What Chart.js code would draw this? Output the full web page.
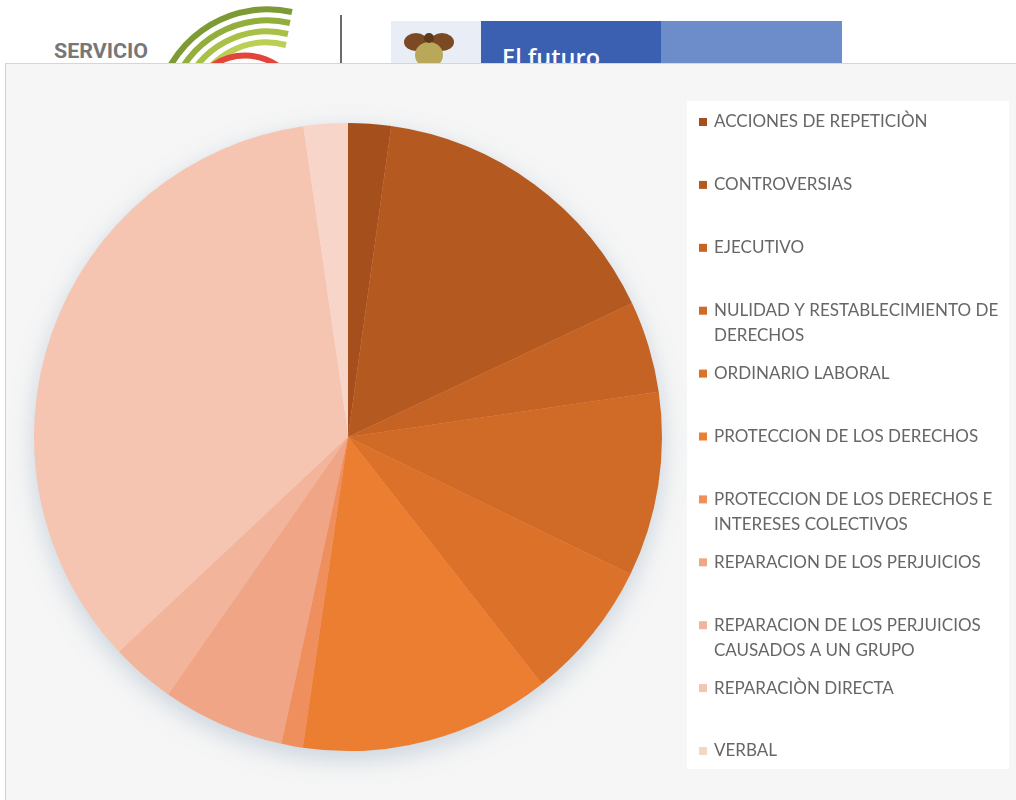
<!DOCTYPE html>
<html lang="es">
<head>
<meta charset="utf-8">
<title>Procesos por tipo</title>
<script src="https://cdn.jsdelivr.net/npm/chart.js@4.4.1/dist/chart.umd.min.js"></script>
<style>
  html, body { margin: 0; padding: 0; background: #ffffff; }
  body { width: 1016px; height: 800px; position: relative; overflow: hidden; }
  #header { position: absolute; left: 0; top: 0; }
  #panel {
    position: absolute; left: 5px; top: 63px; width: 1011px; height: 737px;
    background: #f6f6f6; border-top: 1px solid #d6d6d6; border-left: 1px solid #cfcfcf;
    box-sizing: border-box;
  }
  #panel canvas { position: absolute; left: 0; top: 0; }
</style>
</head>
<body>
<!-- logos de cabecera (quedan tapados en parte por el panel) -->
<svg id="header" width="1016" height="90" xmlns="http://www.w3.org/2000/svg">
  <text x="54" y="58" font-family="Roboto, 'Liberation Sans'" font-weight="bold" font-size="20" fill="#777777" textLength="94" lengthAdjust="spacingAndGlyphs">SERVICIO</text>
  <g fill="none" stroke-width="6">
    <path d="M 160 90 A 112 112 0 0 1 292 12" stroke="#7d9a35"/>
    <path d="M 172 90 A 100 100 0 0 1 290 23" stroke="#93ae3b"/>
    <path d="M 184 90 A 88 88 0 0 1 288 34" stroke="#a8c046"/>
    <path d="M 196 90 A 76 76 0 0 1 286 45" stroke="#bccf55"/>
    <path d="M 192 90 A 58 58 0 0 1 298 90" stroke="#e2463a"/>
  </g>
  <line x1="341" y1="15" x2="341" y2="70" stroke="#3a3a3a" stroke-width="1.5"/>
  <rect x="391" y="21" width="90" height="60" fill="#e9eef6"/>
  <g>
    <ellipse cx="416" cy="42" rx="12" ry="9" fill="#7b4a24"/>
    <ellipse cx="442" cy="42" rx="12" ry="9" fill="#7b4a24"/>
    <ellipse cx="429" cy="55" rx="14" ry="13" fill="#b9a85a"/>
    <circle cx="429" cy="38" r="5" fill="#5c3a1c"/>
  </g>
  <rect x="481" y="21" width="180" height="60" fill="#3c60b1"/>
  <rect x="661" y="21" width="181" height="60" fill="#6d8dca"/>
  <text x="502" y="66" font-family="'Open Sans', sans-serif" font-weight="600" font-size="23" fill="#ffffff" textLength="98" lengthAdjust="spacingAndGlyphs">El futuro</text>
  <text x="684" y="82" font-family="'Open Sans', sans-serif" font-size="23" fill="#ffffff" textLength="124" lengthAdjust="spacingAndGlyphs">Minenergía</text>
</svg>

<div id="panel">
  <canvas id="tiposChart" width="1011" height="737"></canvas>
</div>

<script>
// Tipos de proceso y su participación (%)
const categorias = [
  'ACCIONES DE REPETICIÒN',
  'CONTROVERSIAS',
  'EJECUTIVO',
  'NULIDAD Y RESTABLECIMIENTO DE DERECHOS',
  'ORDINARIO LABORAL',
  'PROTECCION DE LOS DERECHOS',
  'PROTECCION DE LOS DERECHOS E INTERESES COLECTIVOS',
  'REPARACION DE LOS PERJUICIOS',
  'REPARACION DE LOS PERJUICIOS CAUSADOS A UN GRUPO',
  'REPARACIÒN DIRECTA',
  'VERBAL'
];
const participacion = [2.2, 15.8, 4.7, 9.5, 7.2, 12.9, 1.1, 6.3, 3.3, 34.7, 2.3];
const colores = [
  '#a54f1d', '#b45a21', '#c46324', '#cf6a27', '#dc7129', '#ec7e31',
  '#ee8f5d', '#f0a586', '#f3b49c', '#f5c5b2', '#f7d5c9'
];

// Parte el texto de la leyenda en líneas según el ancho disponible
function partirTexto(ctx, texto, anchoMax) {
  const palabras = texto.split(' ');
  const lineas = [];
  let actual = '';
  palabras.forEach(p => {
    const prueba = actual ? actual + ' ' + p : p;
    if (ctx.measureText(prueba).width > anchoMax && actual) {
      lineas.push(actual);
      actual = p;
    } else {
      actual = prueba;
    }
  });
  if (actual) lineas.push(actual);
  return lineas;
}

// Sombra suave debajo del pastel
const sombraPastel = {
  id: 'sombraPastel',
  beforeDatasetsDraw(chart) {
    const arco = chart.getDatasetMeta(0).data[0];
    if (!arco) return;
    const ctx = chart.ctx;
    ctx.save();
    ctx.beginPath();
    ctx.arc(arco.x, arco.y, arco.outerRadius - 1, 0, Math.PI * 2);
    ctx.shadowColor = 'rgba(110, 140, 170, 0.35)';
    ctx.shadowBlur = 26;
    ctx.shadowOffsetY = 8;
    ctx.fillStyle = '#f0a586';
    ctx.fill();
    ctx.restore();
  }
};

// Leyenda a la derecha con recuadro blanco
const leyendaLateral = {
  id: 'leyendaLateral',
  beforeDraw(chart) {
    const ctx = chart.ctx;
    ctx.save();
    ctx.fillStyle = '#ffffff';
    ctx.fillRect(681, 37, 322, 668);
    ctx.restore();
  },
  afterDraw(chart) {
    const ctx = chart.ctx;
    const fondo = chart.data.datasets[0].backgroundColor;
    ctx.save();
    ctx.font = '17px Lato';
    ctx.textBaseline = 'middle';
    chart.data.labels.forEach((etiqueta, i) => {
      const y = 58 + i * 62.9;
      ctx.fillStyle = fondo[i];
      ctx.fillRect(693, y - 4, 8, 8);
      ctx.fillStyle = '#666666';
      partirTexto(ctx, etiqueta, 296).forEach((linea, j) => {
        ctx.fillText(linea, 708, y + j * 25);
      });
    });
    ctx.restore();
  }
};

const ctx = document.getElementById('tiposChart').getContext('2d');
new Chart(ctx, {
  type: 'pie',
  data: {
    labels: categorias,
    datasets: [{
      data: participacion,
      backgroundColor: colores,
      borderWidth: 0
    }]
  },
  options: {
    responsive: false,
    animation: false,
    layout: {
      padding: { left: 28, right: 355, top: 59, bottom: 50 }
    },
    plugins: {
      legend: { display: false },
      tooltip: {
        callbacks: {
          label: c => ' ' + c.parsed + '%'
        }
      }
    }
  },
  plugins: [sombraPastel, leyendaLateral]
});
</script>
</body>
</html>
